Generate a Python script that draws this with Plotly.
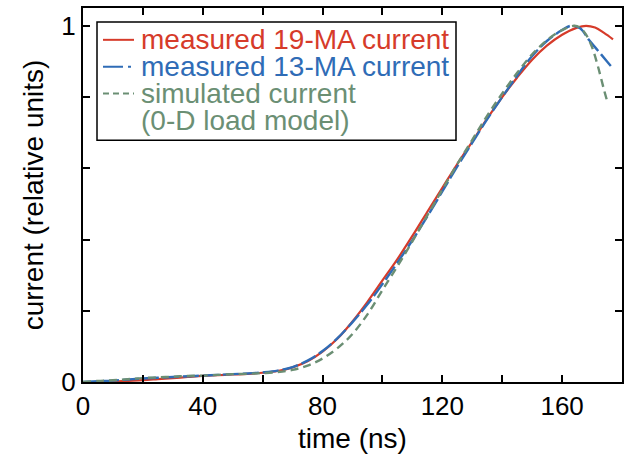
import plotly.graph_objects as go

# time (ns)
t_red = [0, 5, 10, 15, 20, 25, 30, 35, 40, 45, 50, 55, 60, 65, 70, 75, 80, 85, 90, 95,
         100, 105, 110, 115, 120, 125, 130, 135, 140, 145, 150, 155, 160, 165, 168, 171, 174, 177]
i_red = [0, 0.0, 0.001, 0.003, 0.005, 0.008, 0.011, 0.014, 0.017, 0.019, 0.021, 0.023, 0.026,
         0.031, 0.041, 0.058, 0.085, 0.122, 0.17, 0.225, 0.285, 0.345, 0.41, 0.478, 0.545,
         0.612, 0.675, 0.74, 0.8, 0.855, 0.905, 0.945, 0.975, 0.995, 1.0, 0.995, 0.98, 0.962]

t_blue = [0, 5, 10, 15, 20, 25, 30, 35, 40, 45, 50, 55, 60, 65, 70, 75, 80, 85, 90, 95,
          100, 105, 110, 115, 120, 125, 130, 135, 140, 145, 150, 155, 160, 163, 166, 169, 172, 175, 177]
i_blue = [0, 0.002, 0.004, 0.007, 0.01, 0.012, 0.014, 0.016, 0.018, 0.02, 0.022, 0.024, 0.027,
          0.032, 0.042, 0.06, 0.087, 0.123, 0.168, 0.218, 0.275, 0.335, 0.398, 0.465, 0.535,
          0.605, 0.672, 0.738, 0.8, 0.86, 0.915, 0.958, 0.988, 1.0, 0.993, 0.96, 0.93, 0.9, 0.88]

t_green = [0, 5, 10, 15, 20, 25, 30, 35, 40, 45, 50, 55, 60, 65, 70, 75, 80, 85, 90, 95,
           100, 105, 110, 115, 120, 125, 130, 135, 140, 145, 150, 155, 160, 164, 166, 168, 170, 172, 174, 175]
i_green = [0, 0.003, 0.005, 0.008, 0.011, 0.013, 0.015, 0.017, 0.018, 0.02, 0.022, 0.023, 0.025,
           0.028, 0.034, 0.046, 0.066, 0.095, 0.135, 0.19, 0.258, 0.325, 0.395, 0.468, 0.54,
           0.612, 0.68, 0.748, 0.81, 0.868, 0.92, 0.96, 0.988, 1.0, 0.995, 0.975, 0.94, 0.885, 0.82, 0.79]

series_names = ["measured 19-MA current", "measured 13-MA current",
                "simulated current", "(0-D load model)"]

x_tickvals = [0, 20, 40, 60, 80, 100, 120, 140, 160]
x_ticktext = ["0", "", "40", "", "80", "", "120", "", "160"]
y_tickvals = [0, 0.2, 0.4, 0.6, 0.8, 1.0]
y_ticktext = ["0", "", "", "", "", "1"]

RED = "#d63b2a"
BLUE = "#2f6cb6"
GREEN = "#6b8f74"
FONT = "Liberation Sans, Arial, Helvetica, sans-serif"

# plot area in pixels (for placing the hand-drawn legend)
L, R, T, B = 83, 622, 6, 382
W, H = R - L, B - T
def px(x):
    return (x - L) / W
def py(y):
    return (B - y) / H

fig = go.Figure()
fig.add_trace(go.Scatter(x=t_red, y=i_red, mode="lines", name=series_names[0],
                         line=dict(color=RED, width=2.2, shape="spline")))
fig.add_trace(go.Scatter(x=t_blue, y=i_blue, mode="lines", name=series_names[1],
                         line=dict(color=BLUE, width=2.4, dash="16px,4px", shape="spline")))
fig.add_trace(go.Scatter(x=t_green, y=i_green, mode="lines", name=series_names[2],
                         line=dict(color=GREEN, width=2.4, dash="8px,5px", shape="spline")))

# legend box
shapes = [dict(type="rect", xref="paper", yref="paper",
               x0=px(97), x1=px(456), y0=py(139), y1=py(20),
               line=dict(color="black", width=1.5), fillcolor="white", layer="above")]
sample_y = [38, 65, 92]
sample_dash = ["solid", "20px,5px,3px", "6px,4px"]
sample_col = [RED, BLUE, GREEN]
for yy, d, c in zip(sample_y, sample_dash, sample_col):
    shapes.append(dict(type="line", xref="paper", yref="paper",
                       x0=px(103), x1=px(134), y0=py(yy), y1=py(yy),
                       line=dict(color=c, width=2, dash=d), layer="above"))

text_y = [38, 65, 92, 119]
text_col = [RED, BLUE, GREEN, GREEN]
annotations = []
for txt, yy, c in zip(series_names, text_y, text_col):
    annotations.append(dict(text=txt, xref="paper", yref="paper", x=px(139), y=py(yy),
                            xanchor="left", yanchor="middle", showarrow=False,
                            font=dict(family=FONT, size=28, color=c)))

fig.update_layout(
    width=631, height=464,
    margin=dict(l=L, r=631 - R, t=T, b=464 - B),
    plot_bgcolor="white", paper_bgcolor="white",
    font=dict(family=FONT, size=26, color="black"),
    showlegend=False,
    shapes=shapes,
    annotations=annotations,
    xaxis=dict(range=[0, 180], tickvals=x_tickvals, ticktext=x_ticktext,
               ticks="inside", ticklen=7, tickwidth=2, tickcolor="black",
               tickfont=dict(family=FONT, size=26, color="black"),
               showline=True, linewidth=2, linecolor="black", mirror="ticks",
               showgrid=False, zeroline=False,
               title=dict(text="time (ns)", standoff=8,
                          font=dict(family=FONT, size=28, color="black"))),
    yaxis=dict(range=[0, 1.05], tickvals=y_tickvals, ticktext=y_ticktext,
               ticks="inside", ticklen=7, tickwidth=2, tickcolor="black",
               tickfont=dict(family=FONT, size=26, color="black"),
               showline=True, linewidth=2, linecolor="black", mirror="ticks",
               showgrid=False, zeroline=False,
               title=dict(text="current (relative units)", standoff=10,
                          font=dict(family=FONT, size=28, color="black"))),
)

fig.write_html("out.html")
